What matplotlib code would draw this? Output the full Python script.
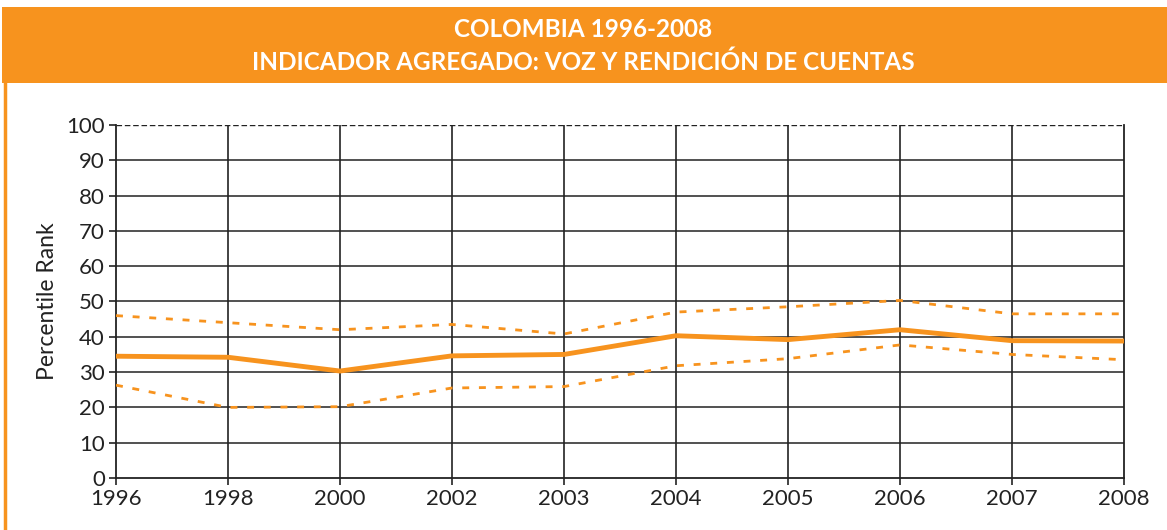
import matplotlib.pyplot as plt
from matplotlib.patches import Rectangle
from matplotlib.lines import Line2D

plt.rcParams['font.family'] = ['Lato', 'DejaVu Sans']

# data
years = ['1996', '1998', '2000', '2002', '2003', '2004', '2005', '2006', '2007', '2008']
rank = [34.5, 34.2, 30.3, 34.6, 35.0, 40.3, 39.2, 42.0, 38.9, 38.8]
upper = [46.0, 44.0, 42.0, 43.5, 40.8, 47.0, 48.5, 50.3, 46.5, 46.5]
lower = [26.3, 20.0, 20.2, 25.5, 25.9, 31.8, 33.8, 37.7, 35.0, 33.5]

orange = '#F7931E'

fig = plt.figure(figsize=(11.67, 5.30), dpi=100)

# header band
fig.patches.append(Rectangle((0.002, 0.8434), 0.998, 0.1434, transform=fig.transFigure,
                             facecolor=orange, edgecolor='none', zorder=0))
# left border line
fig.lines.append(Line2D([0.0047, 0.0047], [0.0, 0.845], transform=fig.transFigure,
                        color=orange, lw=2.5))
fig.text(0.5, 0.945, 'COLOMBIA 1996-2008', ha='center', va='center',
         color='white', fontsize=17.5, fontweight='bold')
fig.text(0.5, 0.882, 'INDICADOR AGREGADO: VOZ Y RENDICIÓN DE CUENTAS', ha='center', va='center',
         color='white', fontsize=17.5, fontweight='bold')

ax = fig.add_axes([0.0994, 0.0981, 0.8638, 0.6661])
x = list(range(len(years)))

# grid
for v in range(10, 100, 10):
    ax.axhline(v, color='#333333', lw=1.2, zorder=1)
for xi in x[1:-1]:
    ax.axvline(xi, color='#222222', lw=1.2, zorder=1)
ax.axhline(100, color='#222222', lw=1.0, ls=(0, (4, 2)), zorder=1)

ax.plot(x, upper, color=orange, lw=2, ls=(0, (2.5, 3.5)), zorder=3)
ax.plot(x, lower, color=orange, lw=2, ls=(0, (2.5, 3.5)), zorder=3)
ax.plot(x, rank, color=orange, lw=3.5, zorder=4)

ax.set_xlim(0, len(years) - 1)
ax.set_ylim(0, 100)
ax.set_xticks(x)
ax.set_xticklabels(years)
ax.set_yticks(range(0, 101, 10))
ax.tick_params(labelsize=16, colors='#222222', length=5, width=1.2, direction='out')
ax.tick_params(axis='x', pad=3)
ax.tick_params(axis='y', pad=3)
ax.spines['top'].set_visible(False)
for s in ['left', 'right', 'bottom']:
    ax.spines[s].set_color('#222222')
    ax.spines[s].set_linewidth(1.3)
ax.set_ylabel('Percentile Rank', fontsize=16.5, color='#222222', labelpad=6)

fig.savefig('out.png', dpi=100)
